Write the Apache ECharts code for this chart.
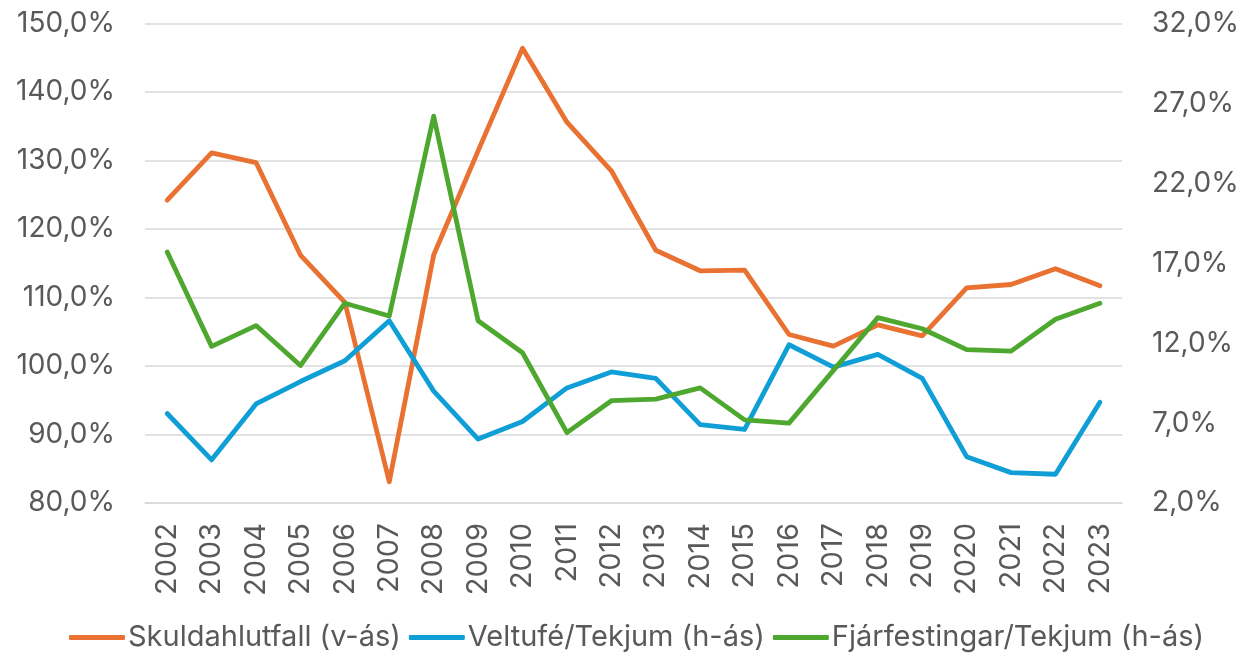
<!DOCTYPE html>
<html>
<head>
<meta charset="utf-8">
<script src="https://cdn.jsdelivr.net/npm/echarts@6/dist/echarts.min.js"></script>
<style>
html,body{margin:0;padding:0;background:#fff;}
#chart{width:1242px;height:654px;}
</style>
</head>
<body>
<div id="chart"></div>
<script>
const categories = ['2002','2003','2004','2005','2006','2007','2008','2009','2010','2011','2012','2013','2014','2015','2016','2017','2018','2019','2020','2021','2022','2023'];
const skuldahlutfall = [124.2,131.1,129.7,116.2,109.3,83.1,116.2,131.4,146.4,135.6,128.5,116.9,113.9,114.0,104.6,102.9,106.0,104.4,111.4,111.9,114.2,111.7];
const veltufe = [7.6,4.7,8.2,9.6,10.9,13.4,9.0,6.0,7.1,9.2,10.2,9.8,6.9,6.6,11.9,10.5,11.3,9.8,4.9,3.9,3.8,8.3];
const fjarfestingar = [17.7,11.8,13.1,10.6,14.5,13.7,26.2,13.4,11.4,6.4,8.4,8.5,9.2,7.2,7.0,10.3,13.6,12.9,11.6,11.5,13.5,14.5];
const seriesNames = ['Skuldahlutfall (v-ás)','Veltufé/Tekjum (h-ás)','Fjárfestingar/Tekjum (h-ás)'];
const rightTicks = [2,7,12,17,22,27,32];

const FONT = 'Inter';
const TXT = '#595959';
const fmt = v => v.toFixed(1).replace('.', ',') + '%';

const chart = echarts.init(document.getElementById('chart'), null, {renderer:'canvas'});
chart.setOption({
  animation: false,
  backgroundColor: '#fff',
  textStyle: {fontFamily: FONT},
  grid: {left: 145, right: 118, top: 23.5, bottom: 151, containLabel: false},
  legend: {
    bottom: -3, left: 64,
    icon: 'roundRect', itemWidth: 56, itemHeight: 5, itemGap: 8,
    textStyle: {fontFamily: FONT, fontSize: 29, color: TXT, padding: [0,0,0,-2]},
    data: seriesNames
  },
  xAxis: {
    type: 'category', data: categories, boundaryGap: true,
    axisLine: {show: true, lineStyle: {color: '#D9D9D9', width: 1.5}},
    axisTick: {show: false},
    axisLabel: {rotate: 90, margin: 20, fontSize: 29, color: TXT, fontFamily: FONT, interval: 0}
  },
  yAxis: [
    {
      type: 'value', min: 80, max: 150, interval: 10,
      axisLine: {show: false}, axisTick: {show: false},
      splitLine: {show: true, lineStyle: {color: '#D9D9D9', width: 1.5}},
      axisLabel: {formatter: fmt, fontSize: 28, color: TXT, fontFamily: FONT, margin: 30}
    },
    {
      type: 'value', min: 2, max: 32, position: 'right',
      axisLine: {show: false}, axisTick: {show: false},
      splitLine: {show: false},
      axisLabel: {customValues: rightTicks, formatter: fmt, fontSize: 28, color: TXT, fontFamily: FONT, margin: 30}
    }
  ],
  series: [
    {name: seriesNames[0], type: 'line', yAxisIndex: 0, data: skuldahlutfall, symbol: 'none', z: 3,
     lineStyle: {color: '#E97132', width: 4.8, cap: 'round', join: 'round'}, itemStyle: {color: '#E97132'}},
    {name: seriesNames[1], type: 'line', yAxisIndex: 1, data: veltufe, symbol: 'none', z: 4,
     lineStyle: {color: '#0F9ED5', width: 4.8, cap: 'round', join: 'round'}, itemStyle: {color: '#0F9ED5'}},
    {name: seriesNames[2], type: 'line', yAxisIndex: 1, data: fjarfestingar, symbol: 'none', z: 5,
     lineStyle: {color: '#4EA72E', width: 4.8, cap: 'round', join: 'round'}, itemStyle: {color: '#4EA72E'}}
  ]
});
</script>
</body>
</html>
